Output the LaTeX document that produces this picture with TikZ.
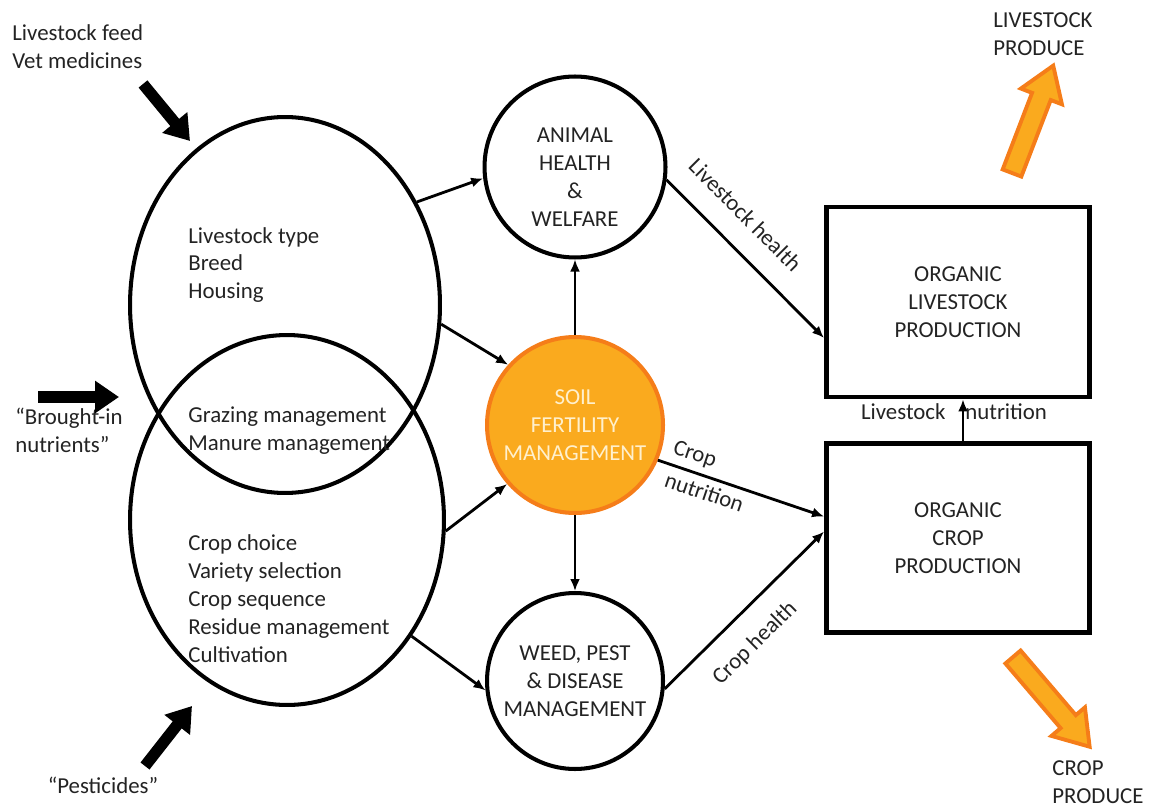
\documentclass[tikz,border=0pt]{standalone}
\usepackage{fontspec}
\setmainfont{Carlito}
\usetikzlibrary{arrows.meta,shapes.geometric}

\definecolor{soilfill}{RGB}{250,170,30}
\definecolor{soilline}{RGB}{245,125,25}
\definecolor{soiltext}{RGB}{255,240,205}
\definecolor{inktext}{RGB}{35,35,35}

\tikzset{
  txt/.style={font=\fontsize{13}{15.9}\selectfont, text=inktext},
  zone/.style={ellipse, draw, line width=2.3pt, inner sep=0pt},
  topic/.style={circle, draw, line width=2.3pt, inner sep=0pt, align=center, minimum size=3.52cm, txt},
  prodbox/.style={rectangle, draw, line width=2.8pt, minimum width=5.26cm, align=center, txt},
  listing/.style={txt, align=left, anchor=west, inner sep=0pt},
  conn/.style={line width=1.6pt, -{Latex[length=0.24cm,width=0.2cm]}},
  feedarrow/.style={line width=6.5pt, -{Triangle[length=0.48cm,width=0.62cm]}},
  produce/.style={draw=soilline, fill=soilfill, line width=2.2pt, line join=miter},
}

\begin{document}
\begin{tikzpicture}[x=0.02cm, y=-0.02cm]
  \useasboundingbox (0,0) rectangle (1151,807);

  % Farm system.
  \node[zone, minimum width=6.2cm, minimum height=7.52cm] (stock) at (285,305) {};
  \node[zone, minimum width=6.28cm, minimum height=7.4cm] (crop) at (287,520) {};
  \node[listing] (stocklist) at (188,265) {Livestock type\\Breed\\Housing};
  \node[listing] (sharedlist) at (188,431) {Grazing management\\Manure management};
  \node[listing] (croplist) at (188,599) {Crop choice\\Variety selection\\Crop sequence\\Residue management\\Cultivation};

  % Inputs.
  \node[listing] (feedtext) at (12,47) {Livestock feed\\Vet medicines};
  \node[listing] (broughttext) at (15,430) {“Brought-in\\nutrients”};
  \node[txt] (pesttext) at (103,785) {“Pesticides”};
  \coordinate (feedtail) at (143,84);
  \coordinate (feedtip) at (190,141);
  \coordinate (broughttail) at (38,397);
  \coordinate (broughttip) at (119,397);
  \coordinate (pesttail) at (145,766);
  \coordinate (pesttip) at (192,706);
  \draw[feedarrow] (feedtail) -- (feedtip);
  \draw[feedarrow] (broughttail) -- (broughttip);
  \draw[feedarrow] (pesttail) -- (pesttip);

  % Centre.
  \node[topic, minimum size=3.62cm] (animal) at (575,167) {};
  \node[txt, align=center, inner sep=0pt] (animaltext) at (575,177) {ANIMAL\\HEALTH\\\&\\WELFARE};
  \node[topic, draw=soilline, fill=soilfill, text=soiltext] (soil) at (575,425) {SOIL\\FERTILITY\\MANAGEMENT};
  \node[topic] (weed) at (575,681) {WEED, PEST\\\& DISEASE\\MANAGEMENT};

  % Production.
  \node[prodbox, minimum height=3.8cm] (stockbox) at (958,302) {ORGANIC\\LIVESTOCK\\PRODUCTION};
  \node[prodbox, minimum height=3.78cm] (cropbox) at (958,538) {ORGANIC\\CROP\\PRODUCTION};

  \draw[conn] (stock.38) -- (animal.187);
  \draw[conn] (stock.-7) -- (soil.138);
  \draw[conn] (crop.-4) -- (soil.221);
  \draw[conn] (crop.-43) -- (weed.186);
  \draw[conn] (soil) -- (animal);
  \draw[conn] (soil) -- (weed);
  \draw[conn] (animal.-8) -- node[txt, sloped, above=9pt, pos=0.36] {Livestock health} ([yshift=-0.72cm]stockbox.west);
  \draw[conn] (soil.-23) -- node[txt, sloped, above, pos=0.19] {Crop} node[txt, sloped, below, pos=0.31] {nutrition} ([yshift=0.43cm]cropbox.west);
  \draw[conn] (weed.-5) -- node[txt, sloped, below=8pt, pos=0.43] {Crop health} ([yshift=0.13cm]cropbox.west);
  \draw[conn] ([xshift=0.1cm]cropbox.north) -- ([xshift=0.1cm]stockbox.south);
  \node[txt] (nutrition) at (954,412) {Livestock\hspace*{11.3pt}nutrition};

  % Outputs.
  \node[listing] (stockout) at (993,34) {LIVESTOCK\\PRODUCE};
  \node[listing] (cropout) at (1052,782) {CROP\\PRODUCE};
  \begin{scope}[shift={(1012,173)}, rotate=69]
    \draw[produce] (0,-10) -- (82,-10) -- (82,-22) -- (115,0) -- (82,22) -- (82,10) -- (0,10) -- cycle;
  \end{scope}
  \begin{scope}[shift={(1013,657)}, rotate=-49.5]
    \draw[produce] (0,-10) -- (85,-10) -- (85,-22) -- (118,0) -- (85,22) -- (85,10) -- (0,10) -- cycle;
  \end{scope}
\end{tikzpicture}
\end{document}
